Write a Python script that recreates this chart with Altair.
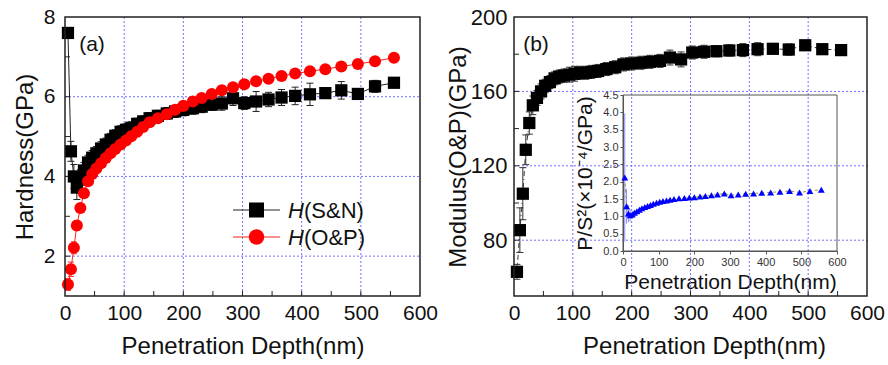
import altair as alt
import pandas as pd

# ---------------- data ----------------
depth = [5, 10, 15, 20, 26, 32, 39, 46, 53, 61, 69, 77, 85, 94, 103, 112, 122, 132, 143, 157,
         172, 186, 200, 216, 231, 248, 265, 284, 303, 323, 344, 366, 389, 414, 440, 467, 495, 524, 556]

h_sn = [7.6, 4.63, 4.0, 3.72, 3.92, 4.15, 4.35, 4.47, 4.58, 4.7, 4.8, 4.92, 5.02, 5.12, 5.17, 5.22, 5.32, 5.38, 5.46, 5.52,
        5.58, 5.63, 5.67, 5.71, 5.75, 5.8, 5.83, 5.96, 5.84, 5.88, 5.93, 5.98, 6.02, 6.06, 6.09, 6.16, 6.07, 6.26, 6.35]
h_sn_err = [0.05, 0.25, 0.3, 0.3, 0.25, 0.2, 0.18, 0.18, 0.17, 0.17, 0.16, 0.16, 0.15, 0.15, 0.15, 0.15, 0.14, 0.14, 0.14, 0.14,
            0.15, 0.15, 0.15, 0.15, 0.15, 0.14, 0.17, 0.18, 0.16, 0.25, 0.18, 0.2, 0.22, 0.28, 0.1, 0.22, 0.07, 0.15, 0.05]

h_op = [1.29, 1.67, 2.21, 2.77, 3.21, 3.58, 3.88, 4.06, 4.2, 4.33, 4.46, 4.58, 4.69, 4.8, 4.9, 5.01, 5.12, 5.24, 5.36, 5.46,
        5.56, 5.67, 5.77, 5.88, 5.97, 6.07, 6.16, 6.24, 6.31, 6.39, 6.45, 6.52, 6.58, 6.64, 6.69, 6.76, 6.82, 6.89, 6.98]
h_op_err = [0.15, 0.18, 0.15, 0.12, 0.1, 0.08, 0.08, 0.07, 0.07, 0.07, 0.07, 0.07, 0.07, 0.07, 0.07, 0.06, 0.06, 0.06, 0.06, 0.06,
            0.06, 0.05, 0.05, 0.05, 0.05, 0.05, 0.05, 0.05, 0.05, 0.05, 0.05, 0.05, 0.05, 0.05, 0.05, 0.05, 0.05, 0.05, 0.05]

modulus = [63, 85.4, 105, 128.6, 143, 152.5, 156.5, 160, 163, 165, 167, 168, 168.5, 169, 169.5, 170, 170, 170.5, 171, 172,
           173, 174.5, 175, 175.4, 175.9, 176.4, 178.2, 177.2, 180.9, 181.3, 181.6, 182, 182.2, 182.7, 182.9, 182.5, 184.8, 182.7, 182.2]
modulus_err = [4, 12, 14, 8, 6, 5, 4, 4, 3.5, 3.5, 3.5, 3.5, 3.5, 4, 4, 3.5, 3.5, 3.5, 3.5, 3.5,
               3.5, 3.5, 3.5, 3.5, 3.5, 3.5, 4, 4, 3.5, 3.5, 3, 3, 3.5, 3.5, 2, 3, 1.5, 2, 1.5]

ps2 = [2.12, 1.29, 1.08, 1.03, 1.05, 1.1, 1.15, 1.19, 1.23, 1.27, 1.3, 1.33, 1.36, 1.39, 1.42, 1.44, 1.46, 1.48, 1.5, 1.52,
       1.53, 1.54, 1.55, 1.57, 1.59, 1.61, 1.63, 1.66, 1.61, 1.63, 1.65, 1.66, 1.68, 1.69, 1.71, 1.73, 1.69, 1.73, 1.77]
ps2_err = [1.85, 0.5, 0.25, 0.18, 0.1, 0.06, 0.05, 0.04, 0.04, 0.03, 0.03, 0.03, 0.03, 0.03, 0.03, 0.03, 0.03, 0.03, 0.03, 0.03,
           0.03, 0.03, 0.03, 0.03, 0.03, 0.03, 0.03, 0.03, 0.03, 0.03, 0.03, 0.03, 0.03, 0.03, 0.03, 0.03, 0.03, 0.03, 0.03]

x_ticks = [0, 100, 200, 300, 400, 500, 600]
x_minor = [50, 100, 150, 200, 250, 300, 350, 400, 450, 500, 550]
x_grid = [100, 200, 300, 400, 500]
hard_ticks = [2, 4, 6, 8]
hard_minor = [2, 3, 4, 5, 6, 7]
hard_grid = [2, 4, 6]
mod_ticks = [80, 120, 160, 200]
mod_minor = [60, 80, 100, 120, 140, 160, 180]
mod_grid = [80, 120, 160]
ins_yticks = [0.0, 0.5, 1.0, 1.5, 2.0, 2.5, 3.0, 3.5, 4.0, 4.5]
legend_labels = ["(S&N)", "(O&P)"]

df = pd.DataFrame(dict(depth=depth, h_sn=h_sn, h_sn_err=h_sn_err, h_op=h_op, h_op_err=h_op_err,
                       modulus=modulus, modulus_err=modulus_err, ps2=ps2, ps2_err=ps2_err))
df["sn_lo"] = df.h_sn - df.h_sn_err
df["sn_hi"] = df.h_sn + df.h_sn_err
df["op_lo"] = df.h_op - df.h_op_err
df["op_hi"] = df.h_op + df.h_op_err
df["m_lo"] = df.modulus - df.modulus_err
df["m_hi"] = df.modulus + df.modulus_err
df["p_lo"] = df.ps2 - df.ps2_err
df["p_hi"] = df.ps2 + df.ps2_err

# ---------------- layout / styling ----------------
FONT = "Liberation Sans"
GRID = "#7272ff"
TXT = "#111111"
FW, FH = 888, 365
TOP, BOT = 17, 296          # plot area top / bottom (both panels)
LX0, LX1 = 65, 420          # left panel
RX0, RX1 = 514, 867         # right panel
IX0, IX1, IY0, IY1 = 623, 837, 251, 95   # inset


def XL(field):
    return alt.X(f"{field}:Q", scale=alt.Scale(domain=[0, 600], nice=False, zero=False, range=[LX0, LX1]),
                 axis=alt.Axis(values=x_ticks, format="d", title="Penetration Depth(nm)", orient="bottom",
                               offset=BOT - FH, grid=False, tickSize=0, domain=False, labelPadding=6,
                               labelFlush=False, titlePadding=11, labelFontSize=21, titleFontSize=24))


def YL(field):
    return alt.Y(f"{field}:Q", scale=alt.Scale(domain=[1, 8], nice=False, zero=False, range=[BOT, TOP]),
                 axis=alt.Axis(values=hard_ticks, format="d", title="Hardness(GPa)", orient="left",
                               offset=-LX0, grid=False, tickSize=0, domain=False, labelPadding=10,
                               labelFlush=False, titlePadding=6, labelFontSize=21, titleFontSize=24))


def XR(field):
    return alt.X(f"{field}:Q", scale=alt.Scale(domain=[0, 600], nice=False, zero=False, range=[RX0, RX1]),
                 axis=alt.Axis(values=x_ticks, format="d", title="Penetration Depth(nm)", orient="bottom",
                               offset=BOT - FH, grid=False, tickSize=0, domain=False, labelPadding=6,
                               labelFlush=False, titlePadding=11, labelFontSize=21, titleFontSize=24,
                               titleX=704))


def YR(field):
    return alt.Y(f"{field}:Q", scale=alt.Scale(domain=[50, 200], nice=False, zero=False, range=[BOT, TOP]),
                 axis=alt.Axis(values=mod_ticks, format="d", title="Modulus(O&P)(GPa)", orient="left",
                               offset=-RX0, grid=False, tickSize=0, domain=False, labelPadding=7,
                               labelFlush=False, titlePadding=0, labelFontSize=22, titleFontSize=24))


def XI(field):
    return alt.X(f"{field}:Q", scale=alt.Scale(domain=[0, 600], nice=False, zero=False, range=[IX0, IX1]),
                 axis=alt.Axis(values=x_ticks, format="d", title="Penetration Depth(nm)", orient="bottom",
                               offset=IY0 - FH, grid=False, tickSize=3, tickColor="#555", domainColor="#555",
                               labelFlush=False, labelFontSize=11, titleFontSize=21, labelPadding=2,
                               titlePadding=4, labelColor="#333"))


def YI(field):
    return alt.Y(f"{field}:Q", scale=alt.Scale(domain=[0, 4.5], nice=False, zero=False, range=[IY0, IY1]),
                 axis=alt.Axis(values=ins_yticks, format=".1f", title="P/S²(×10⁻⁴/GPa)", orient="left",
                               offset=-IX0, grid=False, tickSize=3, tickColor="#555", domainColor="#555",
                               labelFlush=False, labelFontSize=11, titleFontSize=21, labelPadding=2,
                               titlePadding=7, labelColor="#333"))


base = alt.Chart(df)
one = pd.DataFrame({"a": [0]})


def panel(X, Y, xgrid, ygrid, xminor, yminor, x0, ydom, pre, label, label_pos, extra=()):
    """Build one main panel from its own scales."""
    frame = alt.Chart(pd.DataFrame({"x0": [0], "x1": [600], "y0": [ydom[0]], "y1": [ydom[1]]})).mark_rect(
        fill="white", fillOpacity=0, stroke="#222", strokeWidth=1.5).encode(x=X("x0"), x2="x1", y=Y("y0"), y2="y1")
    gx = alt.Chart(pd.DataFrame({"g": xgrid})).mark_rule(color=GRID, strokeDash=[2, 2], strokeWidth=1).encode(
        x=X("g"), y=alt.value(TOP), y2=alt.value(BOT))
    gy = alt.Chart(pd.DataFrame({"g": ygrid})).mark_rule(color=GRID, strokeDash=[2, 2], strokeWidth=1).encode(
        y=Y("g"), x=alt.value(x0), x2=alt.value(x0 + 355))
    tx = alt.Chart(pd.DataFrame({"t": xminor})).mark_rule(color="#222", strokeWidth=1).encode(
        x=X("t"), y=alt.value(BOT), y2=alt.value(BOT - 5))
    ty = alt.Chart(pd.DataFrame({"t": yminor})).mark_rule(color="#222", strokeWidth=1).encode(
        y=Y("t"), x=alt.value(x0), x2=alt.value(x0 + 5))
    lab = alt.Chart(one).mark_text(text=label, font=FONT, fontSize=21, color=TXT).encode(
        x=alt.value(label_pos[0]), y=alt.value(label_pos[1]))
    return alt.layer(gx, gy, tx, ty, *pre, frame, lab, *extra)


def errbars(X, Y, lo, hi, color, cap):
    r = base.mark_rule(color=color, strokeWidth=1).encode(x=X("depth"), y=Y(lo), y2=hi)
    c1 = base.mark_point(shape="stroke", size=cap, color=color, strokeWidth=1, opacity=1).encode(x=X("depth"), y=Y(lo))
    c2 = base.mark_point(shape="stroke", size=cap, color=color, strokeWidth=1, opacity=1).encode(x=X("depth"), y=Y(hi))
    return [r, c1, c2]


# ---------------- left panel ----------------
left_marks = (errbars(XL, YL, "sn_lo", "sn_hi", "#222", 49)
              + [base.mark_line(color="#222", strokeWidth=1).encode(x=XL("depth"), y=YL("h_sn"))]
              + errbars(XL, YL, "op_lo", "op_hi", "#ff3030", 36)
              + [base.mark_line(color="#ff2020", strokeWidth=1).encode(x=XL("depth"), y=YL("h_op")),
                 base.mark_square(size=150, color="black", opacity=1).encode(x=XL("depth"), y=YL("h_sn")),
                 base.mark_circle(size=145, color="#ff0000", opacity=1).encode(x=XL("depth"), y=YL("h_op"))])

legend_layers = []
rows = [(210, "#222", "black", "square", 225), (237, "#ff2020", "#ff0000", "circle", 240)]
for lab, (yy, lc, mc, shp, sz) in zip(legend_labels, rows):
    legend_layers.append(alt.Chart(one).mark_rule(color=lc, strokeWidth=1).encode(
        x=alt.value(233), x2=alt.value(280), y=alt.value(yy)))
    legend_layers.append(alt.Chart(one).mark_point(shape=shp, size=sz, color=mc, filled=True, opacity=1).encode(
        x=alt.value(256.5), y=alt.value(yy)))
    legend_layers.append(alt.Chart(one).mark_text(text="H", font=FONT, fontSize=22, fontStyle="italic",
                                                   align="left", baseline="middle", color=TXT).encode(
        x=alt.value(288), y=alt.value(yy + 1)))
    legend_layers.append(alt.Chart(one).mark_text(text=lab, font=FONT, fontSize=22,
                                                   align="left", baseline="middle", color=TXT).encode(
        x=alt.value(304), y=alt.value(yy + 1)))

left = panel(XL, YL, x_grid, hard_grid, x_minor, hard_minor, LX0, [1, 8], left_marks, "(a)", (92, 45),
             extra=legend_layers)

# ---------------- right panel ----------------
right_marks = (errbars(XR, YR, "m_lo", "m_hi", "#333", 49)
               + [base.mark_line(color="#333", strokeWidth=1, strokeDash=[5, 3, 1, 3]).encode(x=XR("depth"), y=YR("modulus")),
                  base.mark_square(size=150, color="black", opacity=1).encode(x=XR("depth"), y=YR("modulus"))])
right = panel(XR, YR, x_grid, mod_grid, x_minor, mod_minor, RX0, [50, 200], right_marks, "(b)", (536, 45))

# ---------------- inset ----------------
box = alt.Chart(pd.DataFrame({"x0": [0], "x1": [600], "y0": [0], "y1": [4.5]})).mark_rect(
    fill="white", fillOpacity=0, stroke="#555", strokeWidth=1).encode(x=XI("x0"), x2="x1", y=YI("y0"), y2="y1")
p_err = base.mark_rule(color="#8a8aff", strokeWidth=1).encode(x=XI("depth"), y=YI("p_lo"), y2="p_hi")
p_line = base.mark_line(color="#9a9a3a", strokeWidth=1, strokeDash=[3, 3]).encode(x=XI("depth"), y=YI("ps2"))
p_pts = base.mark_point(shape="triangle-up", filled=True, size=48, color="#0000ff", opacity=1).encode(
    x=XI("depth"), y=YI("ps2"))
inset = alt.layer(box, p_err, p_line, p_pts)

chart = alt.layer(left, right, inset).resolve_scale(x="independent", y="independent").resolve_axis(
    x="independent", y="independent").properties(
    width=FW, height=FH,
    autosize=alt.AutoSizeParams(type="none"),
    padding={"left": 0, "top": 0, "right": 0, "bottom": 0},
    background="white",
).configure_view(strokeWidth=0, stroke=None).configure_axis(
    labelFont=FONT, titleFont=FONT, titleFontWeight="normal", labelColor=TXT, titleColor=TXT
)

chart.save("out.html", embed_options={"renderer": "svg", "actions": False})
